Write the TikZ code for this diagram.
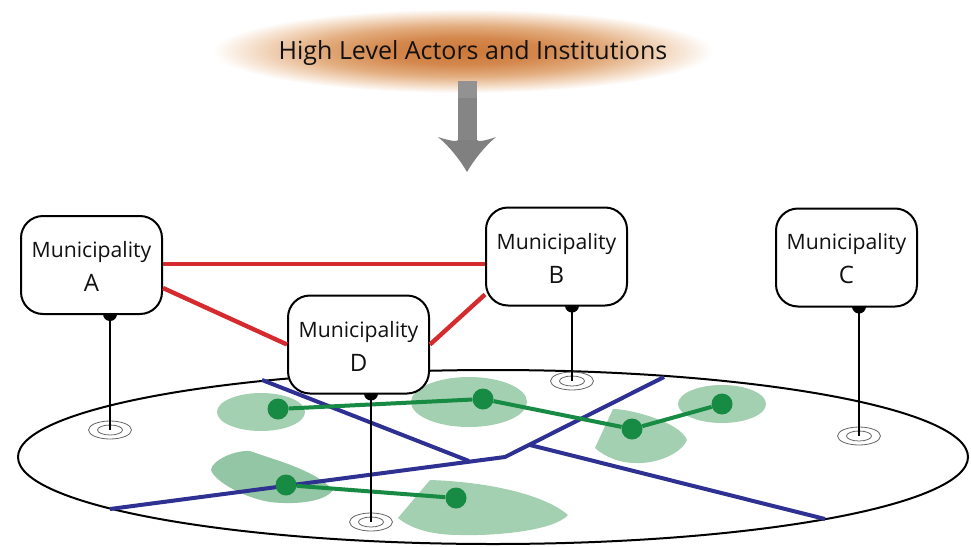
\documentclass[tikz,border=0pt]{standalone}
\usepackage{fontspec}
\setmainfont{Open Sans}
\usetikzlibrary{shapes.geometric,calc}
\definecolor{redlink}{HTML}{D62B2E}
\definecolor{bluerd}{HTML}{2E3192}
\definecolor{greenln}{HTML}{178A43}
\definecolor{greenbl}{HTML}{A3D0B0}
\definecolor{greenbd}{HTML}{93C6A4}
\definecolor{headgray}{HTML}{808080}
\definecolor{shaftgray}{HTML}{858585}
\definecolor{shafttop}{HTML}{929292}
\definecolor{inkgray}{HTML}{111111}
\pgfdeclareradialshading{glow}{\pgfpoint{0bp}{0bp}}{
 rgb(0bp)=(0.80,0.47,0.22);
 rgb(8bp)=(0.83,0.53,0.30);
 rgb(15bp)=(0.89,0.68,0.50);
 rgb(21bp)=(0.96,0.87,0.79);
 rgb(25bp)=(1,1,1);
 rgb(50bp)=(1,1,1)}
\tikzset{
 muni/.style={draw=black,line width=2pt,fill=white,text=inkgray,rounded corners=22pt,minimum width=141pt,minimum height=98pt,inner sep=0pt,align=center,font=\fontsize{21.2}{26}\selectfont},
 redlk/.style={redlink,line width=4.4pt},
 road/.style={bluerd,line width=4pt},
 glink/.style={greenln,line width=4pt},
 gdot/.style={circle,fill=greenln,minimum size=21pt,inner sep=0pt},
 ringo/.style={ellipse,draw=black!60,line width=.8pt,minimum width=43pt,minimum height=18pt,inner sep=0pt},
 ringi/.style={ellipse,draw=black!60,line width=.8pt,minimum width=25pt,minimum height=10pt,inner sep=0pt},
 pin/.style={black,line width=2pt},
 pinhead/.style={circle,fill=black,minimum size=14pt,inner sep=0pt},
 blob/.style={fill=greenbl,draw=none},
}
\newcommand{\munitext}[1]{\rule{0pt}{19pt}Municipality\\[8pt]{\fontsize{24}{27}\selectfont #1}}
\begin{document}
\begin{tikzpicture}[x=1pt,y=-1pt]
\useasboundingbox (0,0) rectangle (971,546);
% glow and arrow
\shade[shading=glow] (463,51) ellipse [x radius=250,y radius=42];
\node[font=\fontsize{25}{28}\selectfont,text=inkgray,inner sep=0pt] (title) at (473,53.5) {High Level Actors and Institutions};
\fill[shaftgray] (458,81) rectangle (477,142);
\fill[shafttop] (458,81) rectangle (477,98);
\fill[headgray] (438,137) .. controls (450,141) and (458,142) .. (458,140) -- (477,140) .. controls (477,142) and (485,141) .. (496,137) .. controls (484,147) and (474,160) .. (467,172) .. controls (460,160) and (450,147) .. (438,137) -- cycle;
% territory
\node[ellipse,draw=black,line width=2pt,fill=white,minimum width=950pt,minimum height=174pt,inner sep=0pt] (land) at (493,457) {};
% blobs
\fill[blob] (261,412) ellipse [x radius=44,y radius=19];
\fill[blob] (469,402) ellipse [x radius=58,y radius=25];
\fill[blob] (722,404) ellipse [x radius=44,y radius=19];
\fill[blob] (613,409) .. controls (630,409) and (680,422) .. (687,440) .. controls (680,455) and (655,464) .. (635,463) .. controls (620,463) and (605,457) .. (595,448) -- cycle;
\fill[greenbd] (250,451) .. controls (275,460) and (315,470) .. (333,490) .. controls (325,502) and (295,505) .. (270,502) .. controls (245,498) and (215,482) .. (211,470) .. controls (212,460) and (235,450) .. (250,451) -- cycle;
\fill[blob] (398,518) -- (430,480) .. controls (490,482) and (545,495) .. (568,515) .. controls (555,530) and (500,536) .. (460,535) .. controls (430,535) and (410,528) .. (398,518) -- cycle;
% roads
\coordinate (r1a) at (110,509);
\coordinate (r1b) at (505,457);
\coordinate (r1c) at (664,377);
\coordinate (r2a) at (262,380);
\coordinate (r2b) at (469,461);
\coordinate (r3a) at (530,445);
\coordinate (r3b) at (825,519);
\draw[road,line join=round] (r1a) -- (r1b) -- (r1c);
\draw[road] (r2a) -- (r2b);
\draw[road] (r3a) -- (r3b);
% green network
\node[gdot] (g1) at (278,409) {};
\node[gdot] (g2) at (483,399) {};
\node[gdot] (g3) at (632,429) {};
\node[gdot] (g4) at (722,404) {};
\node[gdot] (g5) at (286,485) {};
\node[gdot] (g6) at (456,498) {};
\draw[glink] (g1) -- (g2) -- (g3) -- (g4);
\draw[glink] (g5) -- (g6);
% anchors of the boxes
\coordinate (Abot) at (91.5,314);
\coordinate (Bbot) at (556.5,305.5);
\coordinate (Cbot) at (846.5,306.5);
\coordinate (Dbot) at (358.5,393.5);
% rings and pins
\node[ringo] (ringA) at (110,430) {};
\node[ringi] at (ringA) {};
\node[ringo] (ringB) at (572,381) {};
\node[ringi] at (ringB) {};
\node[ringo] (ringC) at (859,436) {};
\node[ringi] at (ringC) {};
\node[ringo] (ringD) at (371,522) {};
\node[ringi] at (ringD) {};
\node[pinhead] (hA) at (ringA |- Abot) {};
\node[pinhead] (hB) at (ringB |- Bbot) {};
\node[pinhead] (hC) at (ringC |- Cbot) {};
\node[pinhead] (hD) at (ringD |- Dbot) {};
\draw[pin] (ringA.center) -- (hA.center);
\draw[pin] (ringB.center) -- (hB.center);
\draw[pin] (ringC.center) -- (hC.center);
\draw[pin] (ringD.center) -- (hD.center);
% boxes
\node[muni] (A) at (91.5,265) {\munitext{A}};
\node[muni] (B) at (556.5,256.5) {\munitext{B}};
\node[muni] (C) at (846.5,257.5) {\munitext{C}};
\node[muni] (D) at (358.5,344.5) {\munitext{D}};
% red links
\draw[redlk] ($(A.east)+(0,-1)$) -- ($(B.west |- A.east)+(0,-1)$);
\draw[redlk] ($(A.east)+(0,23)$) -- (D.west);
\draw[redlk] (D.east) -- ($(B.west)+(0,38)$);
\end{tikzpicture}
\end{document}
